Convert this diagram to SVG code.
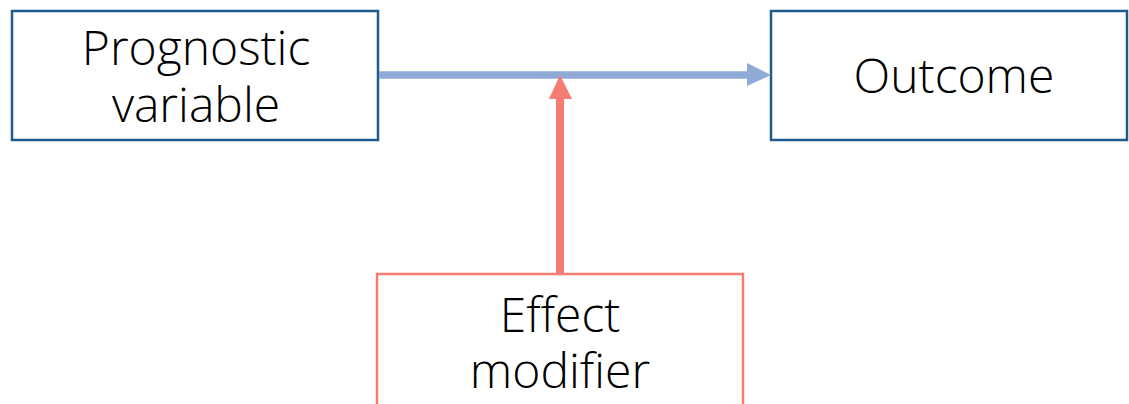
<svg xmlns="http://www.w3.org/2000/svg" width="1129" height="404" viewBox="0 0 1129 404">
<style>
.box{fill:#fff;stroke-width:2.5}
.blue{stroke:#1F5B8C}
.red{stroke:#F47C70}
.t{font-family:"Open Sans","Noto Sans",sans-serif;font-size:48px;font-weight:300;fill:#000;text-anchor:middle}
</style>
<rect width="1129" height="404" fill="#fff"/>
<g id="prognostic">
<rect class="box blue" x="12" y="11" width="366" height="129"/>
<text class="t"><tspan x="196" y="65">Prognostic</tspan><tspan x="196" y="122">variable</tspan></text>
</g>
<g id="outcome">
<rect class="box blue" x="771" y="11" width="356" height="129"/>
<text class="t" x="954" y="93">Outcome</text>
</g>
<g id="effect-modifier">
<rect class="box red" x="377" y="274" width="366" height="140"/>
<text class="t"><tspan x="560" y="332">Effect</tspan><tspan x="560" y="388">modifier</tspan></text>
</g>
<g id="connectors">
<line x1="379" y1="75" x2="748" y2="75" stroke="#8FAAD4" stroke-width="7.5"/>
<polygon points="747,63 771,75 747,86" fill="#8FAAD4"/>
<line x1="560" y1="273" x2="560" y2="98" stroke="#F47C70" stroke-width="8"/>
<polygon points="549,99 560,75 572,99" fill="#F47C70"/>
</g>
</svg>
